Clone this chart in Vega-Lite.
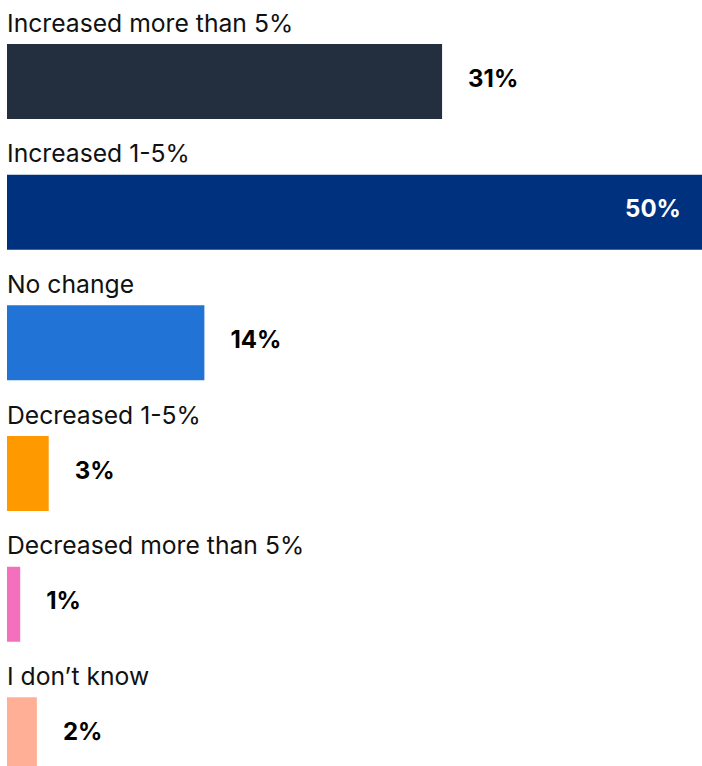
{
  "$schema": "https://vega.github.io/schema/vega-lite/v6.json",
  "width": 695,
  "height": 784,
  "autosize": {"type": "none"},
  "padding": {"left": 7, "top": 0, "right": 0, "bottom": 0},
  "background": "white",
  "config": {"view": {"stroke": null}},
  "data": {
    "values": [
      {"category": "Increased more than 5%", "value": 31.3, "label": "31%", "color": "#232f3e"},
      {"category": "Increased 1-5%", "value": 50, "label": "50%", "color": "#00317f"},
      {"category": "No change", "value": 14.2, "label": "14%", "color": "#2174d6"},
      {"category": "Decreased 1-5%", "value": 3.0, "label": "3%", "color": "#ff9900"},
      {"category": "Decreased more than 5%", "value": 0.95, "label": "1%", "color": "#f570bc"},
      {"category": "I don’t know", "value": 2.15, "label": "2%", "color": "#ffaf96"}
    ]
  },
  "encoding": {
    "y": {
      "field": "category",
      "type": "nominal",
      "sort": null,
      "scale": {"paddingInner": 0, "paddingOuter": 0},
      "axis": null
    }
  },
  "layer": [
    {
      "mark": {"type": "bar", "height": 75, "yOffset": 16.2},
      "encoding": {
        "x": {"field": "value", "type": "quantitative", "scale": {"domain": [0, 50], "nice": false}, "axis": null},
        "color": {"field": "color", "type": "nominal", "scale": null}
      }
    },
    {
      "mark": {"type": "text", "align": "left", "baseline": "alphabetic", "yOffset": -33.6, "font": "Inter", "fontSize": 24.7, "color": "#111111"},
      "encoding": {
        "x": {"datum": 0, "type": "quantitative"},
        "text": {"field": "category"}
      }
    },
    {
      "transform": [{"filter": "datum.value < 40"}],
      "mark": {"type": "text", "align": "left", "baseline": "alphabetic", "dx": 26, "yOffset": 21.4, "font": "Inter", "fontSize": 24, "fontWeight": "bold", "color": "#000000"},
      "encoding": {
        "x": {"field": "value", "type": "quantitative"},
        "text": {"field": "label"}
      }
    },
    {
      "transform": [{"filter": "datum.value >= 40"}],
      "mark": {"type": "text", "align": "right", "baseline": "alphabetic", "dx": -21, "yOffset": 21.4, "font": "Inter", "fontSize": 24, "fontWeight": "bold", "color": "#ffffff"},
      "encoding": {
        "x": {"field": "value", "type": "quantitative"},
        "text": {"field": "label"}
      }
    }
  ]
}
